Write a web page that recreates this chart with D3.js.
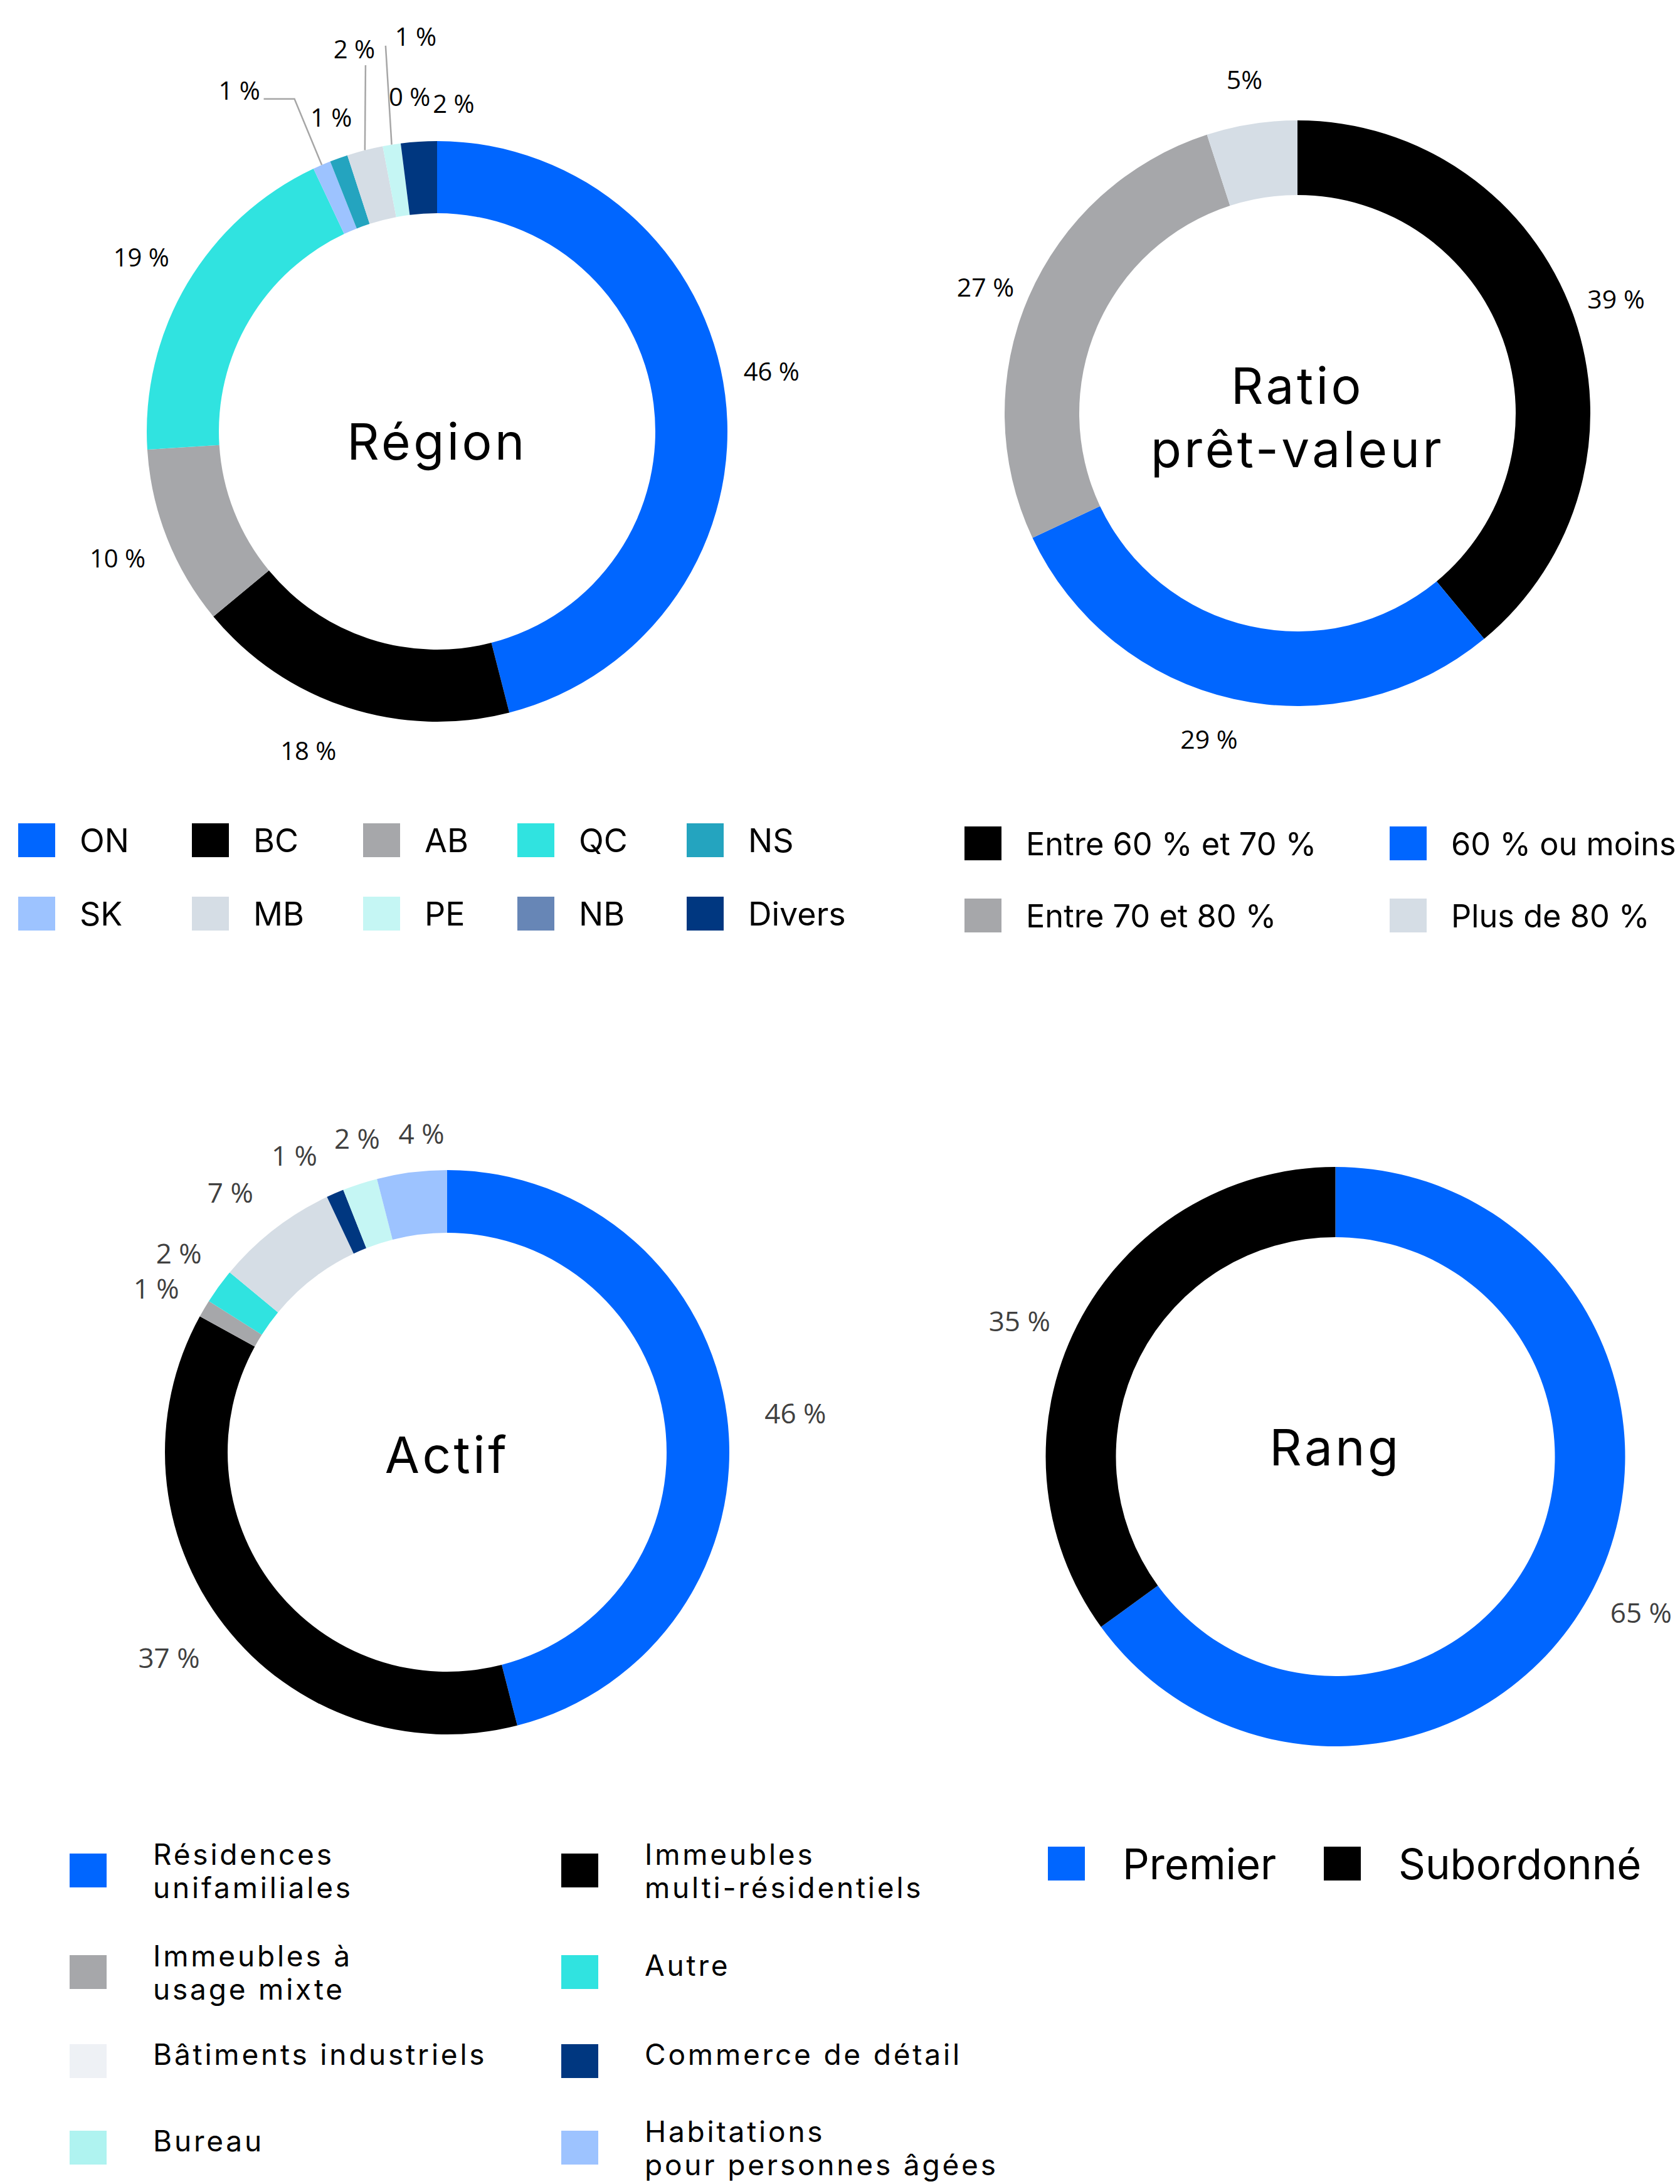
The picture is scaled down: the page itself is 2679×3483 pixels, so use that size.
<!DOCTYPE html>
<html>
<head>
<meta charset="utf-8">
<script src="https://cdn.jsdelivr.net/npm/d3@7"></script>
<style>
  body { margin: 0; background: #fff; }
  svg { display: block; }
</style>
</head>
<body>
<svg width="2679" height="3483"></svg>
<script>
// Région
const regionCats = ["ON", "BC", "AB", "QC", "SK", "NS", "MB", "PE", "NB", "Divers"]
const regionValues = [46, 18, 10, 19, 1, 1, 2, 1, 0, 2]
const regionLabels = ["46 %", "18 %", "10 %", "19 %", "1 %", "1 %", "2 %", "1 %", "0 %", "2 %"]
const regionLegend = ["ON", "BC", "AB", "QC", "NS", "SK", "MB", "PE", "NB", "Divers"]

// Ratio prêt-valeur
const ltvCats = ["Entre 60 % et 70 %", "60 % ou moins", "Entre 70 et 80 %", "Plus de 80 %"]
const ltvValues = [39, 29, 27, 5]
const ltvLabels = ["39 %", "29 %", "27 %", "5%"]

// Actif
const assetCats = ["Résidences unifamiliales", "Immeubles multi-résidentiels", "Immeubles à usage mixte", "Autre",
  "Bâtiments industriels", "Commerce de détail", "Bureau", "Habitations pour personnes âgées"]
const assetValues = [46, 37, 1, 2, 7, 1, 2, 4]
const assetLabels = ["46 %", "37 %", "1 %", "2 %", "7 %", "1 %", "2 %", "4 %"]
const assetLegendLines = [["Résidences", "unifamiliales"], ["Immeubles", "multi-résidentiels"], ["Immeubles à", "usage mixte"],
  ["Autre"], ["Bâtiments industriels"], ["Commerce de détail"], ["Bureau"], ["Habitations", "pour personnes âgées"]]

// Rang
const rankCats = ["Premier", "Subordonné"]
const rankValues = [65, 35]
const rankLabels = ["65 %", "35 %"]

const colors = {
  ON: "#0066ff", BC: "#000000", AB: "#a6a7aa", QC: "#30e3e0", NS: "#24a4bf",
  SK: "#9dc3ff", MB: "#d5dde5", PE: "#c5f6f4", NB: "#6786b6", Divers: "#003780"
}
const ltvColors = ["#000000", "#0066ff", "#a6a7aa", "#d5dde5"]
const assetColors = ["#0066ff", "#000000", "#a6a7aa", "#30e3e0", "#d5dde5", "#003780", "#c5f6f4", "#9dc3ff"]
const assetSwatch = ["#0066ff", "#000000", "#a6a7aa", "#30e3e0", "#eef1f5", "#003780", "#aff3f0", "#9dc3ff"]
const rankColors = ["#0066ff", "#000000"]

const TITLE_FONT = "Inter, 'Noto Sans', sans-serif"
const LABEL_FONT = "'Open Sans', 'Noto Sans', sans-serif"

var svg = d3.select("svg")
svg.append("rect").attr("width", 2679).attr("height", 3483).attr("fill", "#fff")

const rad = (deg) => deg * Math.PI / 180
const polar = (a, r) => [Math.sin(a) * r, -Math.cos(a) * r]

// draws one ring, its outside labels and the title in the hole
const donut = (cfg) => {
  var g = svg.append("g").attr("transform", "translate(" + cfg.cx + "," + cfg.cy + ")")
  var arcs = d3.pie().sort(null).value(d => d)(cfg.values)
  var arc = d3.arc().innerRadius(cfg.r0).outerRadius(cfg.r1)

  g.selectAll("path.slice")
    .data(arcs)
    .enter().append("path")
      .attr("class", "slice")
      .attr("d", arc)
      .attr("fill", (d, i) => cfg.colors[i])

  var place = cfg.place || []
  var labelPts = arcs.map((d, i) => {
    var mid = (d.startAngle + d.endAngle) / 2
    var p = place[i]
    return p ? polar(rad(p[0]), p[1]) : polar(mid, cfg.labelR)
  })

  ;(cfg.leaders || []).forEach(l => {
    var d = arcs[l.i]
    var end = polar((d.startAngle + d.endAngle) / 2, cfg.r1)
    var start = [labelPts[l.i][0] + l.from[0], labelPts[l.i][1] + l.from[1]]
    var pts = [start]
    if (l.elbow) pts.push([start[0] + l.elbow, start[1]])
    pts.push(end)
    g.append("path")
      .attr("d", d3.line()(pts))
      .attr("fill", "none")
      .attr("stroke", "#a6a6a6")
      .attr("stroke-width", 2.5)
  })

  g.selectAll("text.lbl")
    .data(cfg.labels)
    .enter().append("text")
      .attr("class", "lbl")
      .attr("x", (d, i) => labelPts[i][0])
      .attr("y", (d, i) => labelPts[i][1])
      .attr("text-anchor", "middle")
      .attr("dominant-baseline", "central")
      .attr("font-family", LABEL_FONT)
      .attr("font-size", cfg.labelSize)
      .attr("fill", cfg.labelColor)
      .text(d => d)

  g.selectAll("text.title")
    .data(cfg.title)
    .enter().append("text")
      .attr("class", "title")
      .attr("x", 0)
      .attr("y", (d, i) => cfg.titleY[i])
      .attr("text-anchor", "middle")
      .attr("font-family", TITLE_FONT)
      .attr("font-size", 80)
      .attr("letter-spacing", 4.5)
      .attr("fill", "#000")
      .text(d => d)
}

donut({
  cx: 697, cy: 688, r0: 348, r1: 463, labelR: 548,
  values: regionValues, colors: regionCats.map(c => colors[c]),
  labels: regionLabels, labelSize: 40, labelColor: "#000",
  place: [[79.7, 542], [202, 548], null, null, [329.9, 629], [341.4, 529], [347.8, 625], [356.9, 631], [355.3, 536], [2.9, 524]],
  leaders: [{ i: 4, from: [39, 14], elbow: 49 }, { i: 6, from: [18, 27] }, { i: 7, from: [-48, 15] }],
  title: ["Région"], titleY: [45]
})

donut({
  cx: 2069, cy: 659, r0: 348, r1: 467, labelR: 540,
  values: ltvValues, colors: ltvColors,
  labels: ltvLabels, labelSize: 41, labelColor: "#000",
  place: [null, [195.2, 538], [292.1, 537], null],
  title: ["Ratio", "prêt-valeur"], titleY: [-15, 86]
})

donut({
  cx: 713, cy: 2316, r0: 350, r1: 450, labelR: 545,
  values: assetValues, colors: assetColors,
  labels: assetLabels, labelSize: 44, labelColor: "#404040",
  place: [[83.5, 559], [233.6, 551], [299.5, 533], [306.6, 533], [320.2, 540], [332.8, 533], [344, 521], [355.4, 511]],
  title: ["Actif"], titleY: [33]
})

donut({
  cx: 2129.5, cy: 2323, r0: 350, r1: 462, labelR: 547,
  values: rankValues, colors: rankColors,
  labels: rankLabels, labelSize: 44, labelColor: "#404040",
  place: [null, [293.3, 548.5]],
  title: ["Rang"], titleY: [14]
})

// legends
const SW = 59, SH = 54

const legend = (items, opts) => {
  var g = svg.append("g")
    .attr("font-family", TITLE_FONT)
    .attr("font-size", opts.size)
    .attr("letter-spacing", opts.spacing || 0)
    .attr("fill", "#000")
  var item = g.selectAll("g")
    .data(items)
    .enter().append("g")
      .attr("transform", (d, i) => "translate(" + opts.cols[i % opts.cols.length] + "," +
        opts.rows[Math.floor(i / opts.cols.length)] + ")")

  item.append("rect")
    .attr("width", SW)
    .attr("height", SH)
    .attr("fill", d => d.color)

  item.append("text")
    .attr("x", opts.textX)
    .selectAll("tspan")
    .data(d => d.lines.map((t, k) => ({ t, k, n: d.lines.length })))
    .enter().append("tspan")
      .attr("x", opts.textX)
      .attr("y", d => SH / 2 + (d.k - (d.n - 1) / 2) * (opts.lineH || 0) + (d.n === 1 ? (opts.singleDy || 0) : 0))
      .attr("dominant-baseline", "central")
      .text(d => d.t)
}

legend(regionLegend.map(c => ({ lines: [c], color: colors[c] })), {
  cols: [29, 306, 579, 825, 1095], rows: [1313, 1430], textX: 98, size: 52
})

legend(ltvCats.map((c, i) => ({ lines: [c], color: ltvColors[i] })), {
  cols: [1538, 2216], rows: [1318, 1433], textX: 98, size: 50.5
})

legend(assetCats.map((c, i) => ({ lines: assetLegendLines[i], color: assetSwatch[i] })), {
  cols: [111, 895], rows: [2956, 3118, 3260, 3398], textX: 133, size: 46, spacing: 3.8, lineH: 53, singleDy: -11
})

legend(rankCats.map((c, i) => ({ lines: [c], color: rankColors[i] })), {
  cols: [1671, 2111], rows: [2945], textX: 119, size: 67
})
</script>
</body>
</html>
